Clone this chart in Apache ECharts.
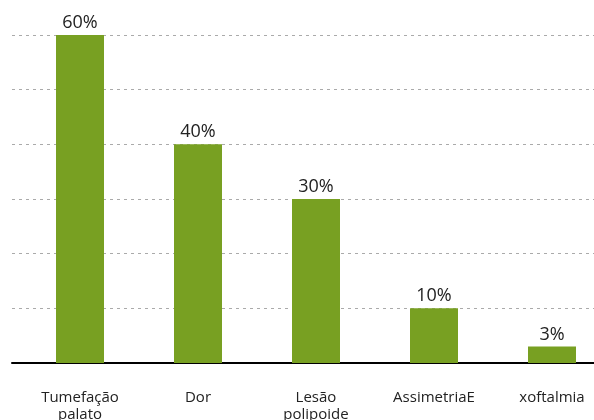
<!DOCTYPE html>
<html>
<head>
<meta charset="utf-8">
<script src="https://cdn.jsdelivr.net/npm/echarts@6/dist/echarts.min.js"></script>
<style>
  html, body { margin: 0; padding: 0; background: #fff; }
  #chart { width: 594px; height: 420px; }
</style>
</head>
<body>
<div id="chart"></div>
<script>
const categories = ['Tumefação\npalato', 'Dor', 'Lesão\npolipoide', 'AssimetriaE', 'xoftalmia']
const percentages = [60, 40, 30, 10, 3]
const yTicks = [0, 10, 20, 30, 40, 50, 60]

const FONT = '"Open Sans", "Noto Sans", sans-serif'

const chart = echarts.init(document.getElementById('chart'))

chart.setOption({
    animation: false,
    grid: [
        // background grid: dotted lines + baseline
        { left: 12, right: 0, top: 35, bottom: 57 },
        // bars (plot is wider than the visible area, cut on the right)
        { left: 21, right: -17, top: 35, bottom: 57, outerBoundsMode: 'none' }
    ],
    xAxis: [
        {
            gridIndex: 0, type: 'category', data: [''],
            axisLine: { show: true, lineStyle: { color: '#000', width: 2 } },
            axisTick: { show: false }, axisLabel: { show: false }
        },
        {
            gridIndex: 1, type: 'category', data: categories,
            axisLine: { show: false }, axisTick: { show: false },
            axisLabel: {
                interval: 0, margin: 26, color: '#222',
                fontFamily: FONT, fontSize: 15, lineHeight: 17
            }
        }
    ],
    yAxis: [
        {
            gridIndex: 0, type: 'value', min: yTicks[0], max: yTicks[yTicks.length - 1], interval: 10,
            axisLine: { show: false }, axisTick: { show: false }, axisLabel: { show: false },
            splitLine: { show: true, lineStyle: { color: '#aaa', type: [3, 4], width: 1 } }
        },
        {
            gridIndex: 1, type: 'value', min: yTicks[0], max: yTicks[yTicks.length - 1], interval: 10,
            axisLine: { show: false }, axisTick: { show: false }, axisLabel: { show: false },
            splitLine: { show: false }
        }
    ],
    series: [{
        type: 'bar',
        xAxisIndex: 1, yAxisIndex: 1,
        data: percentages,
        barWidth: 48,
        itemStyle: { color: '#78A022' },
        label: {
            show: true, position: 'top', distance: 3,
            formatter: p => p.value + '%',
            color: '#222', fontFamily: FONT, fontSize: 18
        }
    }]
})
</script>
</body>
</html>
